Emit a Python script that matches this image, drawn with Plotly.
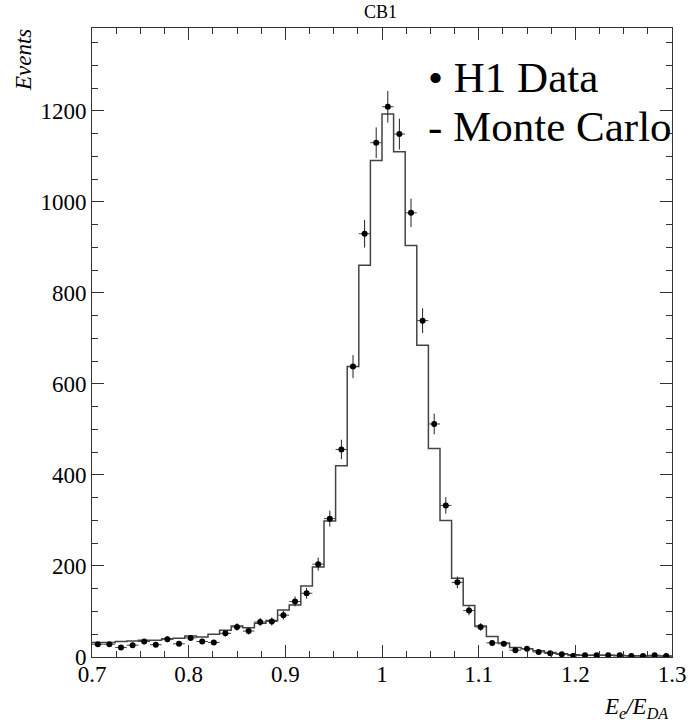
import numpy as np
import plotly.graph_objects as go

# Binning: 50 bins from 0.7 to 1.3
bin_edges = [round(0.7 + 0.012 * i, 4) for i in range(51)]
bin_centers = [round(0.706 + 0.012 * i, 4) for i in range(50)]

h1_data = [28, 28, 21, 26, 34, 27, 39, 29, 42, 34,
           32, 52, 66, 57, 77, 78, 92, 122, 140, 204,
           304, 456, 638, 930, 1130, 1209, 1149, 976, 739, 512,
           333, 164, 102, 66, 31, 29, 15, 18, 11, 8,
           6, 3, 4, 4, 4, 4, 2, 2, 4, 2]

monte_carlo = [32, 32, 34, 35, 37, 37, 40, 41, 46, 44,
               50, 59, 68, 64, 74, 80, 103, 114, 156, 198,
               299, 420, 638, 861, 1091, 1193, 1110, 904, 685, 458,
               300, 173, 113, 68, 45, 31, 21, 18, 14, 10,
               7, 5, 4, 4, 4, 3, 3, 3, 2, 2]

x_ticks = [0.7, 0.8, 0.9, 1.0, 1.1, 1.2, 1.3]
x_tick_labels = ["0.7", "0.8", "0.9", "1", "1.1", "1.2", "1.3"]
y_ticks = [0, 200, 400, 600, 800, 1000, 1200]
y_tick_labels = ["0", "200", "400", "600", "800", "1000", "1200"]

data_err = np.sqrt(np.array(h1_data, dtype=float))
half_bin = 0.006

FONT = "Liberation Serif"
AX = "#333333"

fig = go.Figure()

fig.add_trace(go.Scatter(
    x=bin_edges, y=monte_carlo + [monte_carlo[-1]],
    mode="lines", line=dict(color="#444444", width=1.5, shape="hv"),
    showlegend=False, hoverinfo="skip"))

fig.add_trace(go.Scatter(
    x=bin_centers, y=h1_data, mode="markers",
    marker=dict(color="black", size=6),
    error_y=dict(type="data", array=data_err, color="#222222", thickness=1, width=0),
    error_x=dict(type="constant", value=half_bin, color="#444444", thickness=1, width=0),
    showlegend=False))

# dummy trace for mirrored axes
fig.add_trace(go.Scatter(x=[0.7], y=[0], xaxis="x2", yaxis="y2",
                         mode="markers", marker=dict(opacity=0), showlegend=False,
                         hoverinfo="skip"))

common_x = dict(range=[0.7, 1.3], showgrid=False, zeroline=False,
                ticks="inside", ticklen=12, tickwidth=1, tickcolor=AX,
                showline=True, linecolor=AX, linewidth=1,
                minor=dict(dtick=0.025, ticks="inside", ticklen=6, tickcolor=AX, tickwidth=1))
common_y = dict(range=[0, 1382], showgrid=False, zeroline=False,
                ticks="inside", ticklen=12, tickwidth=1, tickcolor=AX,
                showline=True, linecolor=AX, linewidth=1,
                minor=dict(dtick=50, ticks="inside", ticklen=6, tickcolor=AX, tickwidth=1))

fig.update_layout(
    width=698, height=725,
    margin=dict(l=92, r=16, t=28, b=68),
    paper_bgcolor="white", plot_bgcolor="white",
    font=dict(family=FONT, color="black"),
    xaxis=dict(**common_x, tickmode="array", tickvals=x_ticks, ticktext=x_tick_labels,
               ticklabelstandoff=-4,
               tickfont=dict(size=23, family=FONT, color="black")),
    yaxis=dict(**common_y, tickmode="array", tickvals=y_ticks, ticktext=y_tick_labels,
               tickfont=dict(size=23, family=FONT, color="black")),
    xaxis2=dict(**common_x, overlaying="x", side="top", showticklabels=False,
                tickmode="array", tickvals=x_ticks, anchor="y2"),
    yaxis2=dict(**common_y, overlaying="y", side="right", showticklabels=False,
                tickmode="array", tickvals=y_ticks, anchor="x2"),
    showlegend=False,
    annotations=[
        dict(text="CB1", xref="paper", yref="paper", x=0.497, y=1.026,
             xanchor="center", yanchor="middle", showarrow=False,
             font=dict(size=18, family=FONT)),
        dict(text="<i>Events</i>", xref="paper", yref="paper", x=-0.119, y=0.949,
             xanchor="center", yanchor="middle", showarrow=False, textangle=-90,
             font=dict(size=23, family=FONT)),
        dict(text="<i>E<sub>e</sub>/E<sub>DA</sub></i>", xref="paper", yref="paper",
             x=0.997, y=-0.081, xanchor="right", yanchor="middle", showarrow=False,
             font=dict(size=23, family=FONT)),
        dict(text="\u2022 H1 Data", xref="paper", yref="paper", x=0.576, y=0.922,
             xanchor="left", yanchor="middle", showarrow=False,
             font=dict(size=43, family=FONT)),
        dict(text="- Monte Carlo", xref="paper", yref="paper", x=0.576, y=0.843,
             xanchor="left", yanchor="middle", showarrow=False,
             font=dict(size=43, family=FONT)),
    ],
)

fig.write_html("out.html")
